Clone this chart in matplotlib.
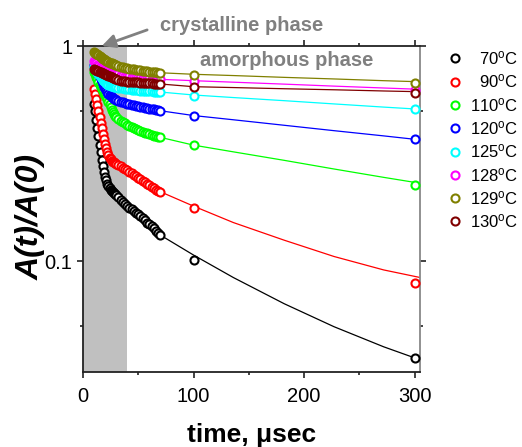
import matplotlib
matplotlib.use('Agg')
import matplotlib.pyplot as plt
from matplotlib.lines import Line2D

plt.rcParams['font.family'] = ['Liberation Sans', 'DejaVu Sans']
plt.rcParams['mathtext.default'] = 'regular'

# measured times (usec): dense record, then two late points
t_data = list(range(10, 31)) + list(range(32, 71, 2)) + [100, 300]
t_fit = [70, 100, 136, 182, 227, 272, 305]

temps = ['70', '90', '110', '120', '125', '128', '129', '130']
colors = ['black', '#ff0000', '#00ff00', '#0000ff', '#00ffff', '#ff00ff', '#808000', '#800000']

a_70 = [0.54, 0.50, 0.455, 0.415, 0.38, 0.348, 0.32, 0.296, 0.277, 0.26, 0.247,
        0.237, 0.229, 0.223, 0.218, 0.215, 0.212, 0.209, 0.207, 0.205, 0.203,
        0.198, 0.193, 0.189, 0.185, 0.181, 0.177, 0.174, 0.171, 0.168, 0.165,
        0.162, 0.158, 0.155, 0.151, 0.148, 0.145, 0.142, 0.138, 0.135, 0.132,
        0.101, 0.0353]
a_90 = [0.63, 0.60, 0.565, 0.53, 0.50, 0.47, 0.44, 0.415, 0.39, 0.37, 0.352,
        0.337, 0.323, 0.312, 0.303, 0.297, 0.293, 0.29, 0.288, 0.286, 0.284,
        0.28, 0.276, 0.272, 0.268, 0.264, 0.26, 0.256, 0.252, 0.248, 0.244,
        0.24, 0.236, 0.232, 0.228, 0.225, 0.221, 0.218, 0.215, 0.212, 0.209,
        0.176, 0.079]
a_110 = [0.76, 0.74, 0.72, 0.70, 0.68, 0.66, 0.645, 0.63, 0.615, 0.60, 0.59,
         0.58, 0.565, 0.55, 0.535, 0.52, 0.505, 0.495, 0.485, 0.475, 0.468,
         0.458, 0.45, 0.443, 0.437, 0.431, 0.426, 0.421, 0.416, 0.411, 0.407,
         0.403, 0.399, 0.395, 0.392, 0.389, 0.386, 0.383, 0.38, 0.378, 0.376,
         0.346, 0.226]
a_120 = [0.82, 0.80, 0.785, 0.765, 0.745, 0.725, 0.705, 0.685, 0.665, 0.648, 0.635,
         0.622, 0.61, 0.60, 0.592, 0.585, 0.579, 0.574, 0.57, 0.566, 0.562,
         0.556, 0.551, 0.547, 0.543, 0.54, 0.537, 0.534, 0.531, 0.528, 0.525,
         0.522, 0.519, 0.516, 0.514, 0.512, 0.509, 0.507, 0.505, 0.502, 0.50,
         0.473, 0.37]
a_125 = [0.80, 0.79, 0.775, 0.76, 0.745, 0.73, 0.718, 0.707, 0.697, 0.688, 0.68,
         0.673, 0.667, 0.662, 0.658, 0.655, 0.652, 0.649, 0.647, 0.645, 0.643,
         0.64, 0.637, 0.635, 0.633, 0.631, 0.629, 0.627, 0.626, 0.624, 0.623,
         0.621, 0.62, 0.619, 0.617, 0.616, 0.615, 0.614, 0.613, 0.612, 0.611,
         0.588, 0.508]
a_128 = [0.85, 0.84, 0.83, 0.82, 0.81, 0.80, 0.795, 0.79, 0.785, 0.78, 0.776,
         0.772, 0.768, 0.764, 0.76, 0.757, 0.754, 0.751, 0.748, 0.745, 0.742,
         0.738, 0.734, 0.731, 0.728, 0.725, 0.723, 0.72, 0.718, 0.716, 0.714,
         0.712, 0.71, 0.709, 0.708, 0.707, 0.706, 0.705, 0.703, 0.702, 0.70,
         0.69, 0.625]
a_129 = [0.935, 0.93, 0.922, 0.914, 0.905, 0.897, 0.889, 0.881, 0.873, 0.866, 0.86,
         0.854, 0.848, 0.843, 0.838, 0.834, 0.83, 0.826, 0.822, 0.818, 0.815,
         0.809, 0.803, 0.798, 0.793, 0.789, 0.785, 0.781, 0.778, 0.775, 0.772,
         0.77, 0.767, 0.765, 0.762, 0.76, 0.758, 0.756, 0.754, 0.753, 0.751,
         0.733, 0.675]
a_130 = [0.78, 0.776, 0.772, 0.768, 0.764, 0.76, 0.756, 0.752, 0.748, 0.744, 0.74,
         0.736, 0.732, 0.728, 0.724, 0.72, 0.716, 0.712, 0.708, 0.704, 0.70,
         0.695, 0.691, 0.688, 0.686, 0.684, 0.682, 0.68, 0.679, 0.678, 0.677,
         0.676, 0.675, 0.674, 0.672, 0.671, 0.67, 0.669, 0.668, 0.667, 0.666,
         0.645, 0.604]

# fitted curves
fit_70 = [0.132, 0.1066, 0.0838, 0.0633, 0.0495, 0.0399, 0.0347]
fit_90 = [0.21, 0.18, 0.151, 0.125, 0.105, 0.0909, 0.0838]
fit_110 = [0.376, 0.346, 0.322, 0.294, 0.268, 0.245, 0.23]
fit_120 = [0.50, 0.475, 0.454, 0.428, 0.404, 0.382, 0.366]
fit_125 = [0.611, 0.592, 0.576, 0.557, 0.538, 0.52, 0.508]
fit_128 = [0.70, 0.69, 0.679, 0.665, 0.651, 0.638, 0.629]
fit_129 = [0.751, 0.739, 0.729, 0.715, 0.703, 0.69, 0.682]
fit_130 = [0.666, 0.647, 0.641, 0.633, 0.626, 0.618, 0.613]

data = [a_70, a_90, a_110, a_120, a_125, a_128, a_129, a_130]
fits = [fit_70, fit_90, fit_110, fit_120, fit_125, fit_128, fit_129, fit_130]

fig = plt.figure(figsize=(5.22, 4.47), dpi=100)
ax = fig.add_axes([0.159, 0.168, 0.646, 0.729])

ax.axvspan(0, 40, color='#c0c0c0', lw=0, zorder=0)

for vals, fit, col in zip(data, fits, colors):
    ax.plot(t_fit, fit, color=col, lw=0.9, zorder=2)
    ax.plot(t_data, vals, ls='none', marker='o', ms=5.8, mew=1.5,
            mec=col, mfc='white', zorder=3)

ax.set_yscale('log')
ax.set_xlim(0, 305)
ax.set_ylim(0.0305, 1.0)
ax.set_xticks([0, 100, 200, 300])
ax.set_xticks([50, 150, 250], minor=True)
ax.set_yticks([0.1, 1], labels=['0.1', '1'])
ax.set_yticks([0.05, 0.5], labels=['', ''], minor=True)
ax.tick_params(which='both', direction='out', top=True, right=True,
               labelsize=14.5, width=1.2, color='#222222')
ax.tick_params(which='major', length=4)
ax.tick_params(which='minor', length=2.5)
ax.tick_params(axis='x', which='major', pad=7)
for side in ['left', 'bottom', 'top']:
    ax.spines[side].set_linewidth(1.3)
    ax.spines[side].set_color('#222222')
ax.spines['right'].set_linewidth(1.3)
ax.spines['right'].set_color('#888888')

ax.set_xlabel('time, \u03bcsec', fontsize=19, fontweight='bold', labelpad=12)
ax.set_ylabel('A(t)/A(0)', fontsize=23, fontweight='bold', fontstyle='italic')
ax.yaxis.set_label_coords(-0.11, 0.475)

ax.annotate('crystalline phase', xy=(17, 1.0), xytext=(70, 1.25),
            ha='left', va='center', fontsize=14.5, fontweight='bold', color='#808080',
            annotation_clip=False,
            arrowprops=dict(arrowstyle='-|>', color='#808080', lw=2,
                            mutation_scale=20, shrinkA=8, shrinkB=0,
                            relpos=(0, 0.5)))
ax.text(106, 0.86, 'amorphous phase', ha='left', va='center', fontsize=14.5,
        fontweight='bold', color='#808080')

# legend drawn at the right of the axes
for i, (temp, col) in enumerate(zip(temps, colors)):
    y = 1 - (58.3 + i * 23.3) / 447
    fig.add_artist(Line2D([0.8716], [y], ls='none', marker='o', ms=5.8, mew=1.5,
                          mec=col, mfc='white', transform=fig.transFigure))
    fig.text(0.993, y, temp + '$^o$C', ha='right', va='center', fontsize=12)

fig.savefig('out.png', dpi=100)
